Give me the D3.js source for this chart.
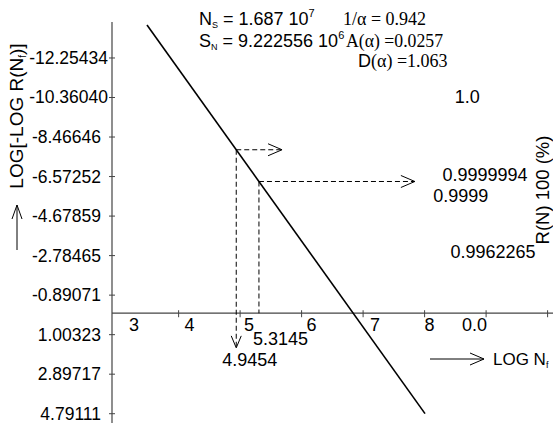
<!DOCTYPE html>
<html>
<head>
<meta charset="utf-8">
<script src="https://cdn.jsdelivr.net/npm/d3@7"></script>
<style>
  html, body { margin: 0; padding: 0; background: #fff; }
  svg text { font-family: "Liberation Sans", Arial, sans-serif; fill: #000; }
  .serif { font-family: "Liberation Serif", "Times New Roman", serif; }
</style>
</head>
<body>
<div id="chart"></div>
<script>
// Ticks del eje Y (valores LOG[-LOG R(Nf)])
const yTicks = [-12.25434, -10.36040, -8.46646, -6.57252, -4.67859, -2.78465, -0.89071, 1.00323, 2.89717, 4.79111];
// Ticks del eje X (LOG Nf) y sus etiquetas
const xTicks = [3, 4, 5, 6, 7, 8, 9, 10];
const xTickLabels = ["3", "4", "5", "6", "7", "8", "0.0", ""];
// Recta de ajuste (dos extremos)
const fitX = [3.494, 8.015];
const fitY = [-13.81, 4.81];
// Lecturas marcadas con flechas discontinuas
const readX = [4.9454, 5.3145];
const readArrowX = [5.69, 7.85];
const readArrowDownY = [1.66, 0];
// Etiquetas de confiabilidad (lado derecho)
const relLabels = ["1.0", "0.9999994", "0.9999", "0.9962265"];
const relY = [-10.40, -6.65, -5.65, -2.95];
const relX = [5.5, 5.30, 5.15, 5.43];

const W = 553, H = 423;
const svg = d3.select("#chart").append("svg")
    .attr("width", W).attr("height", H);

// Escalas
const x = d3.scaleLinear().domain([2.925, 10.096]).range([112, 553]);
const y = d3.scaleLinear().domain([-13.954, 5.26]).range([22, 423]);

const axisColor = "#444";

// Eje Y
const yAxis = svg.append("g")
    .attr("transform", `translate(${x(2.925)},0)`)
    .call(d3.axisLeft(y).tickValues(yTicks).tickFormat(d => d.toFixed(5)).tickSizeInner(3).tickSizeOuter(0));
yAxis.select(".domain").remove();
yAxis.selectAll(".tick line").attr("x1", -3).attr("x2", 3).attr("stroke", axisColor);
yAxis.selectAll(".tick text")
    .attr("x", d => Math.abs(d) >= 10 ? -4 : -11)
    .attr("dy", "0.34em")
    .style("font-size", "17.5px").style("font-family", "Liberation Sans, Arial, sans-serif").attr("fill", "#000");
svg.append("line")
    .attr("x1", x(2.925)).attr("x2", x(2.925))
    .attr("y1", 22).attr("y2", H)
    .attr("stroke", axisColor).attr("stroke-width", 1.2);

// Eje X
const xAxis = svg.append("g")
    .attr("transform", `translate(0,${y(0)})`)
    .call(d3.axisBottom(x).tickValues(xTicks).tickFormat((d, i) => xTickLabels[i]).tickSizeInner(3).tickSizeOuter(0));
xAxis.select(".domain").remove();
xAxis.selectAll(".tick line").attr("y1", -3).attr("y2", 4).attr("stroke", axisColor)
    .attr("display", d => d === 3 ? "none" : null);
const labelDx = {3: 12, 4: 6, 5: 4, 6: 5, 7: 7, 8: 0, 9: -24, 10: 0};
xAxis.selectAll(".tick text")
    .attr("text-anchor", "start")
    .attr("x", d => labelDx[d])
    .attr("y", 5).attr("dy", "0.71em")
    .style("font-size", "18px").style("font-family", "Liberation Sans, Arial, sans-serif").attr("fill", "#000");
svg.append("line")
    .attr("x1", x(2.925)).attr("x2", W)
    .attr("y1", y(0)).attr("y2", y(0))
    .attr("stroke", axisColor).attr("stroke-width", 1.2);

// Recta de ajuste
const fitData = fitX.map((v, i) => [v, fitY[i]]);
svg.append("path")
    .datum(fitData)
    .attr("d", d3.line().x(d => x(d[0])).y(d => y(d[1])))
    .attr("fill", "none")
    .attr("stroke", "#000")
    .attr("stroke-width", 1.6);

function fitAt(v) {
    const t = (v - fitX[0]) / (fitX[1] - fitX[0]);
    return fitY[0] + t * (fitY[1] - fitY[0]);
}

// Lecturas con flechas discontinuas
readX.forEach((rx, i) => {
    const ry = fitAt(rx);
    const px = x(rx), py = y(ry);
    // horizontal
    svg.append("line")
        .attr("x1", px).attr("x2", x(readArrowX[i]))
        .attr("y1", py).attr("y2", py)
        .attr("stroke", "#000").attr("stroke-dasharray", "5,3");
    const tx = x(readArrowX[i]);
    svg.append("path")
        .attr("d", `M${tx - 14},${py - 6}L${tx},${py}L${tx - 14},${py + 6}`)
        .attr("fill", "none").attr("stroke", "#000");
    // vertical
    const by = y(readArrowDownY[i]);
    svg.append("line")
        .attr("x1", px).attr("x2", px)
        .attr("y1", py).attr("y2", by)
        .attr("stroke", "#000").attr("stroke-dasharray", "5,3");
    if (readArrowDownY[i] > 0) {
        svg.append("path")
            .attr("d", `M${px - 5},${by - 12}L${px},${by}L${px + 5},${by - 12}`)
            .attr("fill", "none").attr("stroke", "#000");
    }
});

// Valores leidos bajo el eje
svg.append("text").attr("x", x(readX[1]) - 6).attr("y", y(0) + 32)
    .style("font-size", "18px").text("5.3145");
svg.append("text").attr("x", x(readX[0]) - 14).attr("y", y(0) + 53)
    .style("font-size", "18px").text("4.9454");

// Etiquetas de confiabilidad
relLabels.forEach((t, i) => {
    svg.append("text")
        .attr("x", x(relX[i] + 3)).attr("y", y(relY[i]))
        .attr("dy", "0.36em")
        .style("font-size", "18px")
        .text(t);
});

// Titulo eje derecho
svg.append("text")
    .attr("transform", `translate(553,190) rotate(-90)`)
    .attr("text-anchor", "middle")
    .attr("dy", "-0.2em")
    .style("font-size", "18.5px")
    .text("R(N) 100 (%)");

// Titulo eje Y
const yTitle = svg.append("text")
    .attr("transform", `translate(23,116) rotate(-90)`)
    .attr("text-anchor", "middle")
    .style("font-size", "19px");
yTitle.append("tspan").text("LOG[-LOG R(N");
yTitle.append("tspan").attr("dy", 3).style("font-size", "10px").text("f");
yTitle.append("tspan").attr("dy", -3).text(")]");
svg.append("line").attr("x1", 17).attr("x2", 17).attr("y1", 250).attr("y2", 205)
    .attr("stroke", "#000");
svg.append("path").attr("d", "M12,219L17,205L22,219").attr("fill", "none").attr("stroke", "#000");

// Titulo eje X
svg.append("line").attr("x1", 430).attr("x2", 484).attr("y1", 359).attr("y2", 359).attr("stroke", "#000");
svg.append("path").attr("d", "M470,353L484,359L470,365").attr("fill", "none").attr("stroke", "#000");
const xTitle = svg.append("text").attr("x", 493).attr("y", 365).style("font-size", "17px");
xTitle.append("tspan").text("LOG N");
xTitle.append("tspan").attr("dy", 3).style("font-size", "9px").text("f");

// Parametros
const p1 = svg.append("text").attr("x", 199).attr("y", 25).style("font-size", "18px");
p1.append("tspan").text("N");
p1.append("tspan").attr("dy", 3).style("font-size", "9px").text("S");
p1.append("tspan").attr("dy", -3).text(" = 1.687 10");
p1.append("tspan").attr("dy", -8).style("font-size", "11px").text("7");

const p2 = svg.append("text").attr("x", 199).attr("y", 47).style("font-size", "18px");
p2.append("tspan").text("S");
p2.append("tspan").attr("dy", 3).style("font-size", "9px").text("N");
p2.append("tspan").attr("dy", -3).text(" = 9.222556 10");
p2.append("tspan").attr("dy", -8).style("font-size", "11px").text("6");

svg.append("text").attr("class", "serif").attr("x", 343).attr("y", 25)
    .style("font-size", "18px").text("1/\u03b1 = 0.942");
svg.append("text").attr("class", "serif").attr("x", 346).attr("y", 47)
    .attr("textLength", 97).attr("lengthAdjust", "spacingAndGlyphs")
    .style("font-size", "18px").text("A(\u03b1) =0.0257");
const p3 = svg.append("text").attr("x", 358).attr("y", 67).style("font-size", "18px");
p3.append("tspan").text("D");
p3.append("tspan").attr("class", "serif").style("font-size", "18px").text("(\u03b1) =1.063");
</script>
</body>
</html>
